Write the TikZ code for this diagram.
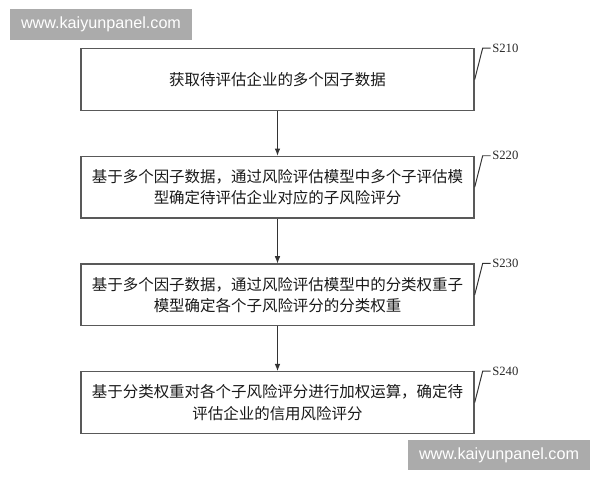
\documentclass[tikz,border=0pt]{standalone}
\usepackage{fontspec}
\newfontfamily\cjk{Noto Sans CJK SC}
\newfontfamily\stepfont{Liberation Serif}
\newfontfamily\webfont{Liberation Sans}
\usetikzlibrary{arrows.meta, positioning}

\begin{document}
\begin{tikzpicture}[x=0.025cm, y=-0.025cm,
    box/.style={draw=black!65, line width=0.9pt, minimum width=9.825cm, minimum height=1.54cm, align=center, text=black!90, font={\cjk\fontsize{11pt}{15pt}\selectfont}},
    steplabel/.style={inner sep=1pt, text=black!85, font={\stepfont\fontsize{9pt}{11pt}\selectfont}},
    leader/.style={draw=black!80, line width=0.7pt},
    flow/.style={-{Latex[length=1.8mm, width=1.4mm]}, draw=black!80, line width=0.7pt},
    wmbox/.style={fill=black!33, text=white, minimum width=4.55cm, minimum height=0.75cm, font={\webfont\fontsize{11.5pt}{12pt}\selectfont}}
]
    \useasboundingbox (0,0) rectangle (600,480);

    % watermarks
    \node[wmbox] (wmtop) at (101,24.5) {www.kaiyunpanel.com};
    \node[wmbox] (wmbottom) at (499,455) {www.kaiyunpanel.com};

    % steps
    \node[box] (s1) at (277.5,79.5) {获取待评估企业的多个因子数据};
    \node[box, below=1.12cm of s1] (s2) {基于多个因子数据，通过风险评估模型中多个子评估模\\型确定待评估企业对应的子风险评分};
    \node[box, below=1.12cm of s2] (s3) {基于多个因子数据，通过风险评估模型中的分类权重子\\模型确定各个子风险评分的分类权重};
    \node[box, below=1.12cm of s3] (s4) {基于分类权重对各个子风险评分进行加权运算，确定待\\评估企业的信用风险评分};

    \node[steplabel, right=0.4cm of s1.north east] (l1) {S210};
    \node[steplabel, right=0.4cm of s2.north east] (l2) {S220};
    \node[steplabel, right=0.4cm of s3.north east] (l3) {S230};
    \node[steplabel, right=0.4cm of s4.north east] (l4) {S240};

    \foreach \i in {1,...,4}
        \draw[leader] (s\i.east) -- ([xshift=0.2cm]s\i.north east) -- (l\i.west);

    \draw[flow] (s1) -- (s2);
    \draw[flow] (s2) -- (s3);
    \draw[flow] (s3) -- (s4);
\end{tikzpicture}
\end{document}
